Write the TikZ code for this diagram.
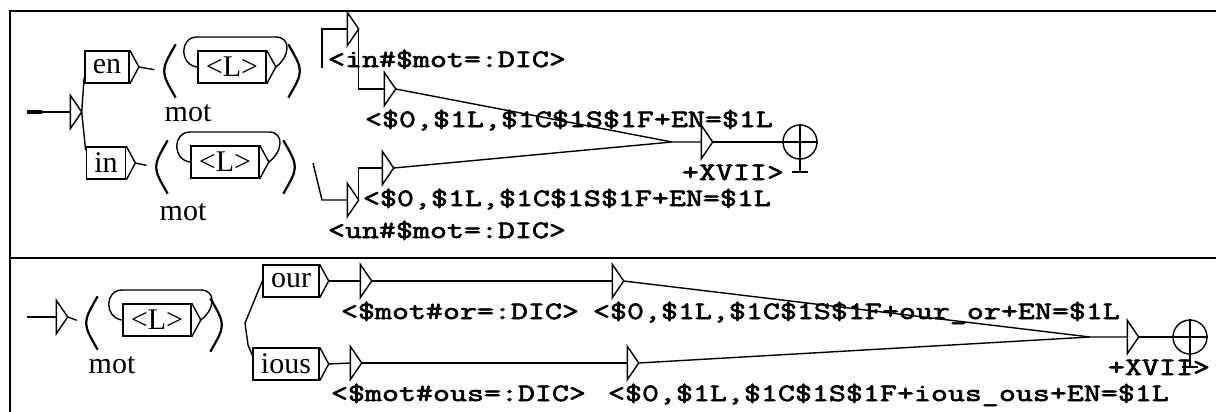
\documentclass[tikz,border=0pt]{standalone}
\usepackage{fontspec}
\setmainfont{Liberation Serif}
\newfontfamily\unimono[FakeStretch=1.32, FakeBold=2.6]{Latin Modern Mono}
\usetikzlibrary{positioning}

\tikzstyle{unibox} = [draw, rectangle, minimum height=16pt, inner xsep=4pt, inner ysep=0pt, font=\fontsize{15}{16}\selectfont]
\tikzstyle{epsbox} = [rectangle, minimum width=5pt, minimum height=16pt, inner sep=0pt]
\tikzstyle{outtext} = [anchor=base west, inner sep=0pt, font=\unimono\fontsize{12.5}{14}\selectfont]
\tikzstyle{paren} = [rectangle, minimum width=6pt, minimum height=26pt, inner sep=0pt]
\tikzstyle{varname} = [inner sep=0pt, font=\fontsize{15}{16}\selectfont]
\tikzstyle{final} = [draw, circle, minimum size=17pt, inner sep=0pt]

\newcommand{\epstri}[1]{\draw (#1.north west) -- (#1.east) -- (#1.south west) -- cycle;}
\newcommand{\boxtri}[1]{\coordinate (#1-o) at ([xshift=4.5pt]#1.east);
  \draw (#1.north east) -- (#1-o) -- (#1.south east);}
\newcommand{\lparen}[1]{\draw[line width=1.1pt] (#1.north east) .. controls ([xshift=-1pt]#1.west) and ([xshift=-1pt]#1.west) .. (#1.south east);}
\newcommand{\rparen}[1]{\draw[line width=1.1pt] (#1.north west) .. controls ([xshift=1pt]#1.east) and ([xshift=1pt]#1.east) .. (#1.south west);}
\newcommand{\finalcross}[1]{\draw (#1.west) -- (#1.east);
  \draw (#1.north) -- ([yshift=-15pt]#1.center);
  \draw ([xshift=-4pt,yshift=-15pt]#1.center) -- ([xshift=4pt,yshift=-15pt]#1.center);}

\begin{document}
\begin{tikzpicture}[x=0.5pt, y=-0.5pt, line width=0.7pt]
  \useasboundingbox (0,0) rectangle (1216,412);
  % frame
  \draw[line width=1.1pt] (10,412) -- (10,11) -- (1216,11);
  \draw[line width=1.1pt] (10,258) -- (1216,258);

  % upper graph
  \coordinate (s1) at (27,112);
  \node (init1) [epsbox] at (76,112) {};
  \node (en) [unibox] at (107,67) {en};
  \node (in) [unibox] at (106,163) {in};
  \node (lp1) [paren] at (169,71) {};
  \node (L1) [unibox] at (232,67) {<L>};
  \node (rp1) [paren] at (295,71) {};
  \node (mot1) [varname] at (188,113) {mot};
  \node (lp2) [paren] at (161,167) {};
  \node (L2) [unibox] at (225,162) {<L>};
  \node (rp2) [paren] at (290,167) {};
  \node (mot2) [varname] at (183,212) {mot};

  \coordinate (c1) at (322,68);
  \node (eps1) [epsbox] at (353,29) {};
  \node (eps2) [epsbox] at (390,89) {};
  \coordinate (c2) at (313,163);
  \node (eps3) [epsbox] at (353,200) {};
  \node (eps4) [epsbox] at (388,168) {};
  \coordinate (mrg1) at (672,142);
  \node (epsF1) [epsbox] at (707,142) {};
  \node (fin1) [final] at (800,142) {};

  \node (o1) [outtext] at ([xshift=-10pt,yshift=-19pt]eps1.west) {<in\#\$mot=:DIC>};
  \node (o2) [outtext] at ([xshift=-10pt,yshift=-19pt]eps2.west) {<\$0,\$1L,\$1C\$1S\$1F+EN=\$1L};
  \node (o3) [outtext] at ([xshift=-10pt,yshift=-19pt]eps3.west) {<un\#\$mot=:DIC>};
  \node (o4) [outtext] at ([xshift=-10pt,yshift=-19pt]eps4.west) {<\$0,\$1L,\$1C\$1S\$1F+EN=\$1L};
  \node (oF1) [outtext] at ([xshift=-10pt,yshift=-19pt]epsF1.west) {+XVII>};

  \draw (s1) -- (init1.west);
  \draw[line width=1.6pt] (s1) -- ++(15,0);
  \epstri{init1}
  \draw (init1.east) -- ([yshift=3pt]en.south west);
  \draw (init1.east) -- ([yshift=-2pt]in.north west);
  \boxtri{en} \boxtri{in} \boxtri{L1} \boxtri{L2}
  \lparen{lp1} \rparen{rp1} \lparen{lp2} \rparen{rp2}
  \draw[shorten >=4pt] (en-o) -- (lp1.west);
  \draw[shorten >=4pt] (in-o) -- (lp2.west);
  \draw (L1.west) .. controls +(-18,-2) and +(-18,0) .. ([yshift=15pt]L1.west)
    -- ([yshift=15pt]L1-o) .. controls +(16,0) and +(14,-10) .. (L1-o);
  \draw (L2.west) .. controls +(-18,-2) and +(-18,0) .. ([yshift=15pt]L2.west)
    -- ([yshift=15pt]L2-o) .. controls +(16,0) and +(14,-10) .. (L2-o);

  \draw (c1) |- (eps1.west); \epstri{eps1}
  \draw (eps1.east) |- (eps2.west); \epstri{eps2}
  \draw (c2) -- ++(9,37) -- (eps3.west); \epstri{eps3}
  \draw (eps3.east) |- (eps4.west); \epstri{eps4}
  \draw (eps2.east) -- (mrg1) -- (epsF1.west);
  \draw (eps4.east) -- (mrg1);
  \epstri{epsF1}
  \draw (epsF1.east) -- (fin1.west);
  \finalcross{fin1}

  % lower graph
  \coordinate (s2) at (27,317);
  \node (init2) [epsbox] at (62,317) {};
  \node (lp3) [paren] at (91,323) {};
  \node (L3) [unibox] at (157,320) {<L>};
  \node (rp3) [paren] at (217,325) {};
  \node (mot3) [varname] at (112,365) {mot};
  \coordinate (br) at (245,323);
  \node (our) [unibox] at (291,281) {our};
  \node (ious) [unibox] at (286,364) {ious};
  \node (eps5) [epsbox] at (366,281) {};
  \node (eps6) [epsbox] at (618,281) {};
  \node (eps7) [epsbox] at (356,363) {};
  \node (eps8) [epsbox] at (633,363) {};
  \coordinate (mrg2) at (1090,337);
  \node (epsF2) [epsbox] at (1133,337) {};
  \node (fin2) [final] at (1190,337) {};

  \node (o5) [outtext] at ([xshift=-10pt,yshift=-19pt]eps5.west) {<\$mot\#or=:DIC>};
  \node (o6) [outtext] at ([xshift=-10pt,yshift=-19pt]eps6.west) {<\$0,\$1L,\$1C\$1S\$1F+our\_or+EN=\$1L};
  \node (o7) [outtext] at ([xshift=-10pt,yshift=-19pt]eps7.west) {<\$mot\#ous=:DIC>};
  \node (o8) [outtext] at ([xshift=-10pt,yshift=-19pt]eps8.west) {<\$0,\$1L,\$1C\$1S\$1F+ious\_ous+EN=\$1L};
  \node (oF2) [outtext] at ([xshift=-10pt,yshift=-19pt]epsF2.west) {+XVII>};

  \draw (s2) -- (init2.west);
  \epstri{init2}
  \lparen{lp3} \rparen{rp3}
  \draw[shorten >=4pt] (init2.east) -- (lp3.west);
  \boxtri{L3}
  \draw (L3.west) .. controls +(-18,-2) and +(-18,0) .. ([yshift=15pt]L3.west)
    -- ([yshift=15pt]L3-o) .. controls +(16,0) and +(14,-10) .. (L3-o);
  \draw (br) -- (our.west);
  \draw (br) -- ++(3,22) -- ([yshift=-4pt]ious.north west);
  \boxtri{our} \boxtri{ious}
  \draw (our-o) -- (eps5.west); \epstri{eps5}
  \draw (eps5.east) -- (eps6.west); \epstri{eps6}
  \draw (ious-o) -- (eps7.west); \epstri{eps7}
  \draw (eps7.east) -- (eps8.west); \epstri{eps8}
  \draw (eps6.east) -- (mrg2) -- (epsF2.west);
  \draw (eps8.east) -- (mrg2);
  \epstri{epsF2}
  \draw (epsF2.east) -- (fin2.west);
  \finalcross{fin2}
\end{tikzpicture}
\end{document}
